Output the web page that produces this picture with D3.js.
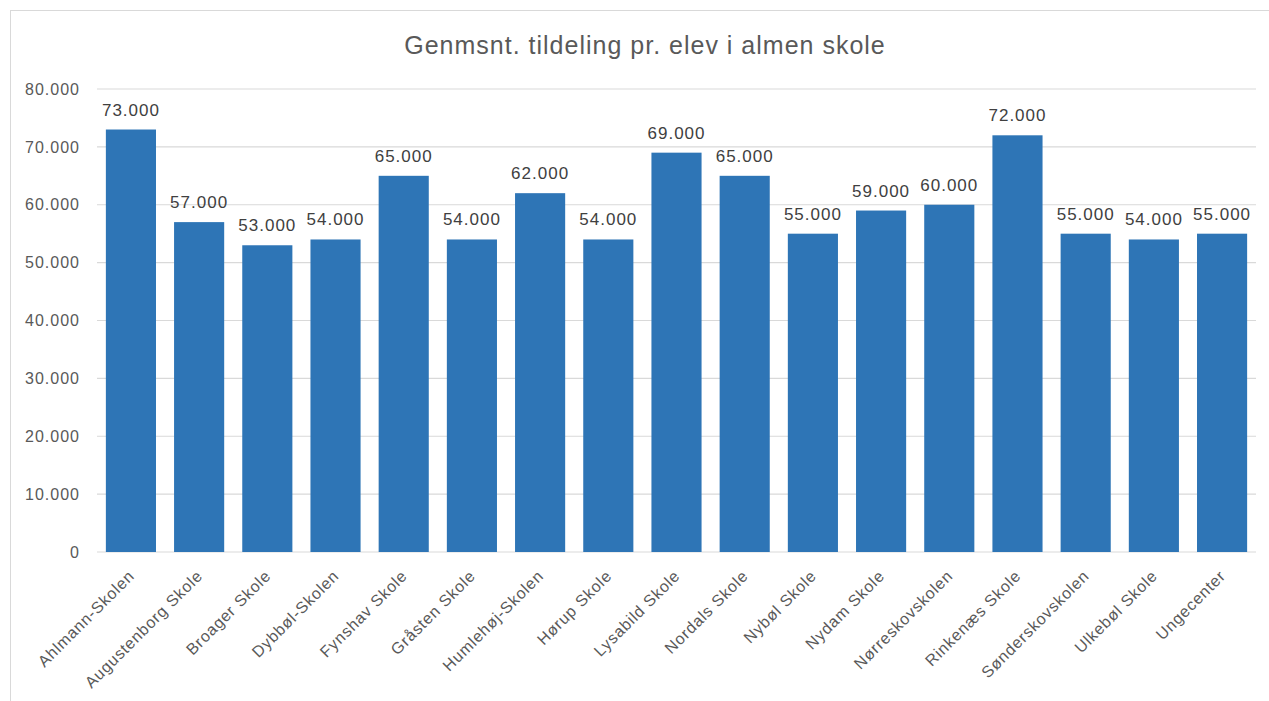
<!DOCTYPE html>
<html><head><meta charset="utf-8">
<script src="https://cdn.jsdelivr.net/npm/d3@7"></script>
<style>body{margin:0;background:#fff}svg{display:block}</style>
</head><body>
<svg id="c" width="1269" height="701"></svg>
<script>
const categories = ["Ahlmann-Skolen","Augustenborg Skole","Broager Skole","Dybbøl-Skolen","Fynshav Skole","Gråsten Skole","Humlehøj-Skolen","Hørup Skole","Lysabild Skole","Nordals Skole","Nybøl Skole","Nydam Skole","Nørreskovskolen","Rinkenæs Skole","Sønderskovskolen","Ulkebøl Skole","Ungecenter"];
const values = [73000,57000,53000,54000,65000,54000,62000,54000,69000,65000,55000,59000,60000,72000,55000,54000,55000];
const yTicks = [0,10000,20000,30000,40000,50000,60000,70000,80000];
const title = "Genmsnt. tildeling pr. elev i almen skole";

const svg = d3.select("#c");
const font = "'Liberation Sans', Arial, sans-serif";
const fmt = v => v === 0 ? "0" : d3.format(",.0f")(v).replace(/,/g, ".");

// chart border
svg.append("rect").attr("x",10.5).attr("y",10.5).attr("width",1300).attr("height",720)
  .attr("fill","#fff").attr("stroke","#d9d9d9").attr("stroke-width",1);

const pLeft = 97, pRight = 1256, pTop = 89, pBottom = 552;
const x = d3.scaleBand().domain(categories).range([pLeft,pRight]).paddingInner(0.265).paddingOuter(0.13);
const y = d3.scaleLinear().domain([0,80000]).range([pBottom,pTop]);

// gridlines
svg.append("g").selectAll("line").data(yTicks).join("line")
  .attr("x1",pLeft).attr("x2",pRight)
  .attr("y1",d=>y(d)).attr("y2",d=>y(d))
  .attr("stroke","#d9d9d9").attr("stroke-width",1.2);

// y axis labels
const yAxis = svg.append("g").attr("transform",`translate(${pLeft-17},0)`)
  .call(d3.axisLeft(y).tickValues(yTicks).tickFormat(fmt).tickSize(0));
yAxis.select(".domain").remove();
yAxis.selectAll("text").attr("font-family",font).attr("font-size",16)
  .attr("letter-spacing","1px").attr("fill","#595959").attr("dx",0).attr("x",0);

// bars
svg.append("g").selectAll("rect").data(values).join("rect")
  .attr("x",(d,i)=>x(categories[i])).attr("width",x.bandwidth())
  .attr("y",d=>y(d)).attr("height",d=>pBottom-y(d))
  .attr("fill","#2e75b6");

// data labels
svg.append("g").selectAll("text").data(values).join("text")
  .attr("x",(d,i)=>x(categories[i])+x.bandwidth()/2)
  .attr("y",d=>y(d)-14)
  .attr("text-anchor","middle")
  .attr("font-family",font).attr("font-size",17).attr("letter-spacing","1px").attr("fill","#404040")
  .text(fmt);

// x axis labels
const xAxis = svg.append("g").attr("transform",`translate(0,${pBottom})`)
  .call(d3.axisBottom(x).tickSize(0));
xAxis.select(".domain").remove();
xAxis.selectAll("text")
  .attr("font-family",font).attr("font-size",16).attr("letter-spacing","0.8px").attr("fill","#595959")
  .attr("text-anchor","end").attr("dy","0.35em")
  .attr("transform","translate(0.5,21) rotate(-45)")
  .attr("x",0).attr("y",0);

// title
svg.append("text").attr("x",645).attr("y",54).attr("text-anchor","middle")
  .attr("font-family",font).attr("font-size",25).attr("letter-spacing","1px").attr("fill","#595959").text(title);
</script>
</body></html>
